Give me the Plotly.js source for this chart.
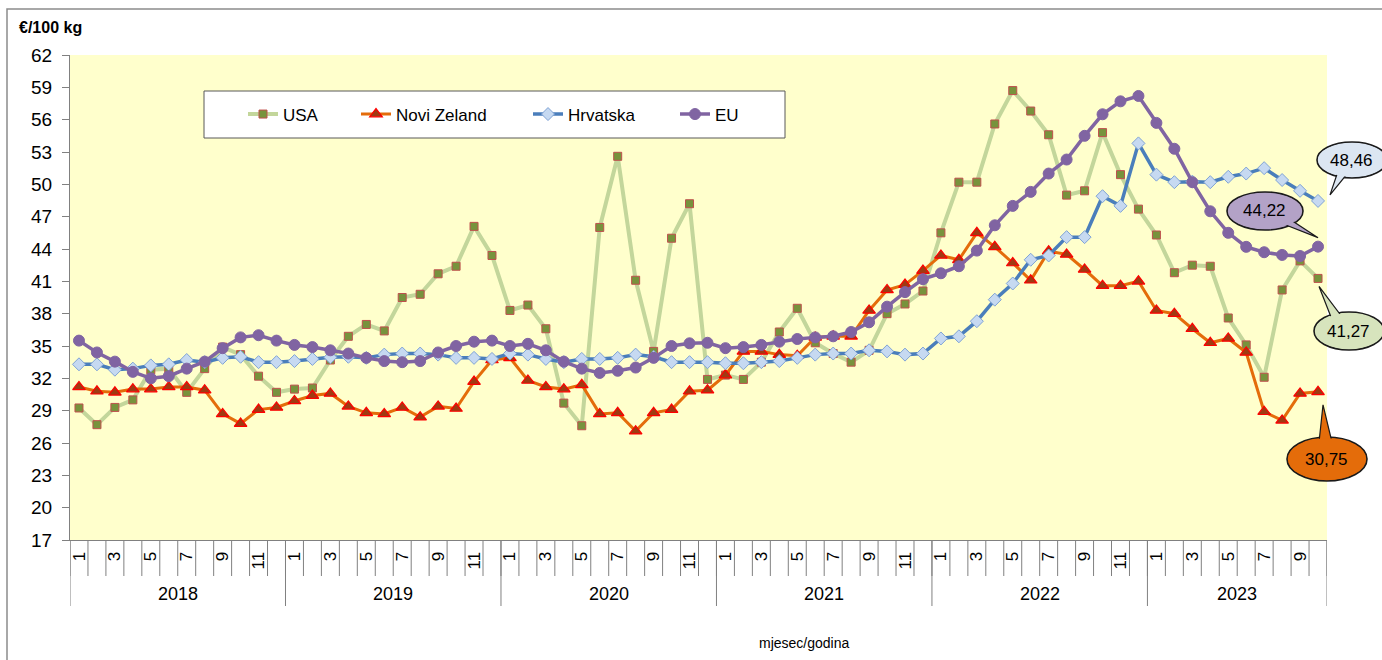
<!DOCTYPE html>
<html>
<head>
<meta charset="utf-8">
<script src="https://cdn.plot.ly/plotly-3.0.1.min.js"></script>
<style>html,body{margin:0;padding:0;background:#fff;}#chart{width:1382px;height:660px;}</style>
</head>
<body>
<div id="chart"></div>
<script>
// ---- data ----
const years = ['2018', '2019', '2020', '2021', '2022', '2023'];
const monthsPerYear = [12, 12, 12, 12, 12, 10];
const monthTickLabels = ['1', '3', '5', '7', '9', '11'];
const seriesNames = ['USA', 'Novi Zeland', 'Hrvatska', 'EU'];

const usa = [29.25, 27.7, 29.3, 30.0, 32.8, 32.9, 30.7, 32.9, 34.9, 34.2, 32.2, 30.7,
  31.0, 31.1, 33.7, 35.9, 37.0, 36.4, 39.5, 39.8, 41.7, 42.4, 46.1, 43.4,
  38.3, 38.8, 36.6, 29.7, 27.6, 46.0, 52.6, 41.1, 34.5, 45.0, 48.2, 31.9,
  32.3, 31.9, 33.5, 36.3, 38.5, 35.3, 34.3, 33.5, 34.6, 38.0, 38.9, 40.1,
  45.5, 50.2, 50.2, 55.6, 58.7, 56.8, 54.6, 49.0, 49.4, 54.8, 50.9, 47.7,
  45.3, 41.8, 42.5, 42.4, 37.6, 35.1, 32.1, 40.2, 42.9, 41.27];

const noviZeland = [31.2, 30.8, 30.7, 31.0, 31.0, 31.2, 31.2, 30.9, 28.7, 27.8, 29.1, 29.3,
  29.9, 30.4, 30.6, 29.4, 28.8, 28.7, 29.3, 28.4, 29.4, 29.2, 31.7, 33.7,
  33.9, 31.8, 31.2, 31.0, 31.4, 28.7, 28.8, 27.1, 28.8, 29.1, 30.8, 30.9,
  32.3, 34.5, 34.5, 34.2, 34.1, 35.8, 35.9, 35.9, 38.3, 40.2, 40.7, 42.0,
  43.4, 43.0, 45.5, 44.2, 42.7, 41.1, 43.8, 43.5, 42.1, 40.6, 40.6, 41.0,
  38.3, 38.0, 36.6, 35.3, 35.7, 34.4, 28.9, 28.1, 30.6, 30.75];

const hrvatska = [33.3, 33.3, 32.8, 32.9, 33.2, 33.3, 33.7, 33.5, 33.9, 34.0, 33.5, 33.5,
  33.6, 33.8, 33.95, 34.0, 33.9, 34.2, 34.3, 34.3, 34.2, 33.9, 33.9, 33.8,
  34.3, 34.2, 33.8, 33.5, 33.8, 33.8, 33.9, 34.2, 34.0, 33.5, 33.5, 33.5,
  33.4, 33.4, 33.5, 33.6, 33.9, 34.2, 34.3, 34.3, 34.6, 34.5, 34.2, 34.3,
  35.7, 35.9, 37.3, 39.3, 40.8, 43.0, 43.4, 45.1, 45.1, 48.9, 48.0, 53.8,
  50.9, 50.2, 50.25, 50.2, 50.7, 51.0, 51.5, 50.4, 49.4, 48.46];

const eu = [35.5, 34.4, 33.55, 32.6, 32.0, 32.2, 32.9, 33.55, 34.8, 35.8, 36.0, 35.5,
  35.1, 34.9, 34.6, 34.3, 33.9, 33.6, 33.5, 33.6, 34.4, 35.0, 35.4, 35.5,
  35.0, 35.2, 34.6, 33.55, 32.9, 32.5, 32.7, 33.0, 33.9, 35.0, 35.25, 35.3,
  34.8, 34.9, 35.1, 35.4, 35.65, 35.8, 35.9, 36.3, 37.2, 38.65, 40.0, 41.2,
  41.75, 42.4, 43.85, 46.2, 48.0, 49.3, 51.0, 52.3, 54.5, 56.5, 57.7, 58.2,
  55.7, 53.3, 50.2, 47.5, 45.5, 44.2, 43.7, 43.45, 43.35, 44.22];

const yTitle = '€/100 kg';
const xTitle = 'mjesec/godina';

// ---- layout geometry ----
const W = 1382, H = 660;
const M = {l: 70, r: 55, t: 55, b: 120};
const PW = W - M.l - M.r, PH = H - M.t - M.b;
const Y0 = 17, Y1 = 62, DY = 3;
const N = monthsPerYear.reduce((a, b) => a + b, 0);
const xIdx = Array.from({length: N}, (_, i) => i);
const FONT = 'Liberation Sans, Arial, sans-serif';

const pX = p => (p - M.l) / PW;           // pixel -> paper
const pY = p => (H - M.b - p) / PH;
const dataPix = (i, v) => [M.l + (i + 0.5) / N * PW, M.t + (Y1 - v) / (Y1 - Y0) * PH];

// month tick labels (odd months) and year boundaries
const monthTickVals = [], monthTickText = [], yearBounds = [-0.5], yearCenters = [];
let off = 0;
monthsPerYear.forEach((m, k) => {
  for (let j = 0; j < m; j += 2) { monthTickVals.push(off + j); monthTickText.push(monthTickLabels[j / 2]); }
  yearCenters.push(off + (m - 1) / 2);
  off += m;
  yearBounds.push(off - 0.5);
});
const monthBounds = Array.from({length: N + 1}, (_, i) => i - 0.5);
const yTicks = [], yGrid = [];
for (let v = Y0; v <= Y1 + 1e-9; v += DY) { yTicks.push(v); if (v > Y0 && v < Y1) yGrid.push(v); }

// ---- traces (each with its own legend so entries sit like the original) ----
const legendTextX = [283, 396, 568, 715];
const traces = [
  {name: seriesNames[0], y: usa, line: {color: '#C3D69B', width: 4},
   marker: {symbol: 'square', size: 8, color: '#77933C', line: {color: '#C0504D', width: 1}}},
  {name: seriesNames[1], y: noviZeland, line: {color: '#E46C0A', width: 3},
   marker: {symbol: 'triangle-up', size: 11, color: '#A03A12', line: {color: '#FF0000', width: 1.2}}},
  {name: seriesNames[2], y: hrvatska, line: {color: '#4A7EBB', width: 3.5},
   marker: {symbol: 'diamond', size: 10, color: '#C6D9F1', line: {color: '#7FA3D5', width: 1}}},
  {name: seriesNames[3], y: eu, line: {color: '#8064A2', width: 3.5},
   marker: {symbol: 'circle', size: 11, color: '#8064A2', line: {color: '#8064A2', width: 1}}}
].map((t, k) => Object.assign({type: 'scatter', mode: 'lines+markers', x: xIdx, xaxis: 'x', yaxis: 'y',
  legend: k === 0 ? 'legend' : 'legend' + (k + 1)}, t));

// ---- callouts for the last values ----
const last = N - 1;
const callouts = [
  {series: hrvatska, fill: '#DCE6F2', tip: [12, -6], c: [1352, 160], r: [35, 18], base: [[1333, 176], [1346, 178]]},
  {series: eu, fill: '#B3A2C7', tip: [0, -9], c: [1265, 211], r: [38, 19], base: [[1286, 227], [1298, 222]]},
  {series: usa, fill: '#D7E4BD', tip: [1, 8], c: [1349, 331], r: [35, 19], base: [[1328, 320], [1341, 314]]},
  {series: noviZeland, fill: '#E46C0A', tip: [5, 13], c: [1327, 459], r: [40, 22], base: [[1316, 440], [1334, 438]]}
];
const shapes = [];
const annotations = [];

// outer chart border
shapes.push({type: 'rect', xref: 'paper', yref: 'paper', x0: pX(7), x1: pX(1395), y0: pY(675), y1: pY(9),
  line: {color: '#8C8C8C', width: 1.5}, fillcolor: 'rgba(0,0,0,0)', layer: 'below'});
// legend box
shapes.push({type: 'rect', xref: 'paper', yref: 'paper', x0: pX(204), x1: pX(785), y0: pY(138), y1: pY(91),
  line: {color: '#595959', width: 1}, fillcolor: '#FFFFFF', layer: 'above'});
// month separators and year dividers under the axis
monthBounds.forEach(b => shapes.push({type: 'line', xref: 'x', yref: 'paper', x0: b, x1: b, y0: pY(576), y1: 0,
  line: {color: '#808080', width: 1}}));
yearBounds.forEach(b => shapes.push({type: 'line', xref: 'x', yref: 'paper', x0: b, x1: b, y0: pY(606), y1: 0,
  line: {color: '#808080', width: 1}}));

callouts.forEach(co => {
  const v = co.series[last];
  const [dx, dy] = dataPix(last, v);
  const tip = [dx + co.tip[0], dy + co.tip[1]];
  const ell = (withLine) => ({type: 'circle', xref: 'paper', yref: 'paper', layer: 'above',
    x0: pX(co.c[0] - co.r[0]), x1: pX(co.c[0] + co.r[0]), y0: pY(co.c[1] + co.r[1]), y1: pY(co.c[1] - co.r[1]),
    fillcolor: co.fill, line: withLine ? {color: '#1A1A1A', width: 1.6} : {width: 0}});
  shapes.push(ell(true));
  const b1 = co.base[0], b2 = co.base[1];
  const inner = p => [p[0] + (co.c[0] - p[0]) * 0.25, p[1] + (co.c[1] - p[1]) * 0.25];
  const i1 = inner(b1), i2 = inner(b2);
  shapes.push({type: 'path', xref: 'paper', yref: 'paper', layer: 'above',
    path: `M${pX(i1[0])},${pY(i1[1])} L${pX(tip[0])},${pY(tip[1])} L${pX(i2[0])},${pY(i2[1])} Z`,
    fillcolor: co.fill, line: {color: '#1A1A1A', width: 1.2}});
  const e2 = ell(false);
  const sh = 1.2;
  e2.x0 = pX(co.c[0] - co.r[0] + sh); e2.x1 = pX(co.c[0] + co.r[0] - sh);
  e2.y0 = pY(co.c[1] + co.r[1] - sh); e2.y1 = pY(co.c[1] - co.r[1] + sh);
  shapes.push(e2);
  annotations.push({xref: 'paper', yref: 'paper', x: pX(co.c[0] - 1), y: pY(co.c[1]), showarrow: false,
    text: v.toFixed(2).replace('.', ','), font: {family: FONT, size: 17, color: '#000'}, xanchor: 'center', yanchor: 'middle'});
});

// year labels
years.forEach((yr, k) => annotations.push({xref: 'x', yref: 'paper', x: yearCenters[k], y: pY(594), showarrow: false,
  text: yr, font: {family: FONT, size: 18, color: '#000'}, xanchor: 'center', yanchor: 'middle'}));
// axis titles
annotations.push({xref: 'paper', yref: 'paper', x: pX(17), y: pY(28), showarrow: false, text: '<b>' + yTitle + '</b>',
  font: {family: FONT, size: 16, color: '#000'}, xanchor: 'left', yanchor: 'middle'});
annotations.push({xref: 'paper', yref: 'paper', x: pX(804), y: pY(643), showarrow: false, text: xTitle,
  font: {family: FONT, size: 14, color: '#000'}, xanchor: 'center', yanchor: 'middle'});

const legendBase = {orientation: 'h', y: pY(114.5), xanchor: 'left', yanchor: 'middle',
  bgcolor: 'rgba(0,0,0,0)', borderwidth: 0, font: {family: FONT, size: 17, color: '#000'}};

const layout = {
  width: W, height: H, margin: M,
  paper_bgcolor: '#FFFFFF', plot_bgcolor: '#FFFFCC',
  font: {family: FONT, color: '#000'},
  showlegend: true,
  xaxis: {range: [-0.5, N - 0.5], tickvals: monthTickVals, ticktext: monthTickText, ticks: '', tickangle: -90,
    ticklabelstandoff: 4, showgrid: false, zeroline: false, showline: true, linecolor: '#808080', linewidth: 1,
    tickfont: {family: FONT, size: 17, color: '#000'}},
  yaxis: {range: [Y0, Y1], tickvals: yTicks, ticks: 'outside', ticklen: 7, tickcolor: '#808080', showgrid: false,
    zeroline: false, showline: true, linecolor: '#808080', linewidth: 1, ticklabelstandoff: 6,
    tickfont: {family: FONT, size: 19, color: '#000'}},
  yaxis2: {overlaying: 'y', anchor: 'x', side: 'left', range: [Y0, Y1], tickvals: yGrid, showgrid: true,
    gridcolor: '#6E6E6E', gridwidth: 1, showticklabels: false, ticks: '', zeroline: false, showline: false},
  shapes: shapes,
  annotations: annotations
};
legendTextX.forEach((tx, k) => {
  layout[k === 0 ? 'legend' : 'legend' + (k + 1)] = Object.assign({}, legendBase, {x: pX(tx - 40)});
});

Plotly.newPlot('chart', traces, layout, {staticPlot: true, displayModeBar: false});
</script>
</body>
</html>
